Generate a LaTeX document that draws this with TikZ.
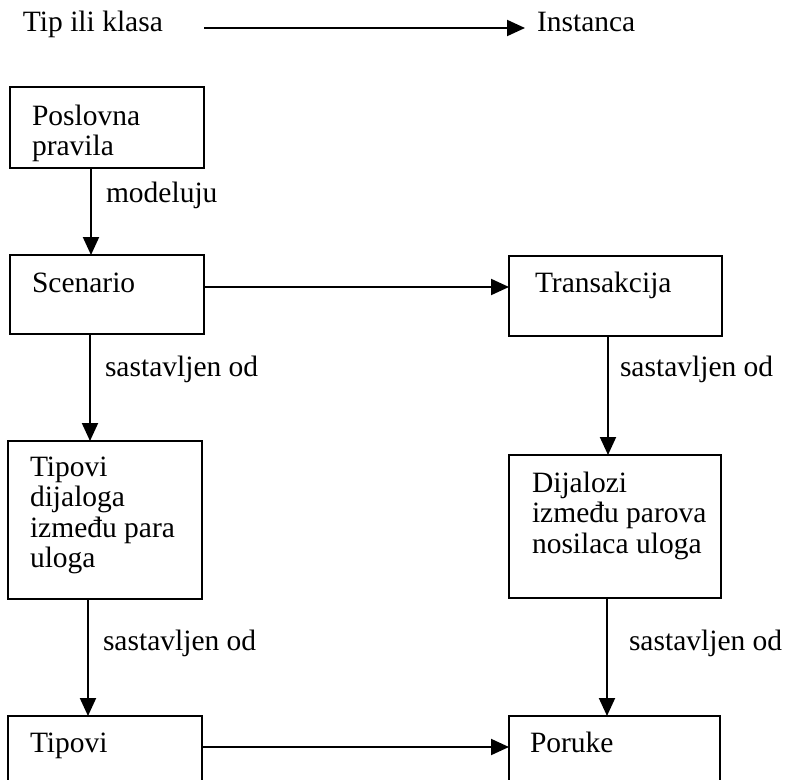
\documentclass[tikz,border=0pt]{standalone}
\usepackage{fontspec}
\setmainfont{Liberation Serif}
\usetikzlibrary{arrows.meta}

\begin{document}
\begin{tikzpicture}[
    x=1pt, y=-1pt,
    every node/.style={inner sep=0pt, outer sep=0pt},
    box/.style={draw, line width=2pt, rectangle},
    txt/.style={anchor=base west, font=\fontsize{29.5}{30.5}\selectfont},
    conn/.style={line width=2pt, -{Triangle[length=18pt,width=16pt]}}
  ]
  % page frame
  \useasboundingbox (0,0) rectangle (787,779);
  \fill[white] (0,0) rectangle (787,779);
  \clip (0,0) rectangle (787,779);

  % legend
  \node[txt] (legtype) at (23,31) {Tip ili klasa};
  \node[txt] (leginst) at (537,31) {Instanca};
  \coordinate (legfrom) at (204,28);
  \coordinate (legto) at (525,28);
  \draw[conn] (legfrom) -- (legto);

  % boxes
  \node[box, minimum width=194pt, minimum height=81pt]  (pr) at (107,127.5) {};
  \node[box, minimum width=194pt, minimum height=79pt]  (sc) at (107,294.5) {};
  \node[box, minimum width=213pt, minimum height=80pt]  (tr) at (615.5,296) {};
  \node[box, minimum width=194pt, minimum height=158pt] (td) at (105,520) {};
  \node[box, minimum width=212pt, minimum height=143pt] (dj) at (615,526.5) {};
  \node[box, minimum width=194pt, minimum height=80pt]  (tp) at (105,756) {};
  \node[box, minimum width=211pt, minimum height=80pt]  (pk) at (614.5,756) {};

  % box texts
  \node[txt] (prT) at (32,125)  {\parbox[t]{170pt}{\raggedright Poslovna\\pravila}};
  \node[txt] (scT) at (32,292)  {Scenario};
  \node[txt] (trT) at (535,292) {Transakcija};
  \node[txt] (tdT) at (30,476)  {\parbox[t]{170pt}{\raggedright Tipovi\\dijaloga\\između para\\uloga}};
  \node[txt] (djT) at (532,492) {\parbox[t]{190pt}{\raggedright Dijalozi\\između parova\\nosilaca uloga}};
  \node[txt] (tpT) at (30,752)  {Tipovi};
  \node[txt] (pkT) at (530,752) {Poruke};

  % connectors
  \draw[conn] ([xshift=-16pt]pr.south) -- ([xshift=-16pt]pr.south |- sc.north);
  \coordinate (scr) at ([yshift=7.5pt]sc.east);
  \draw[conn] (scr) -- (scr -| tr.west);
  \draw[conn] ([xshift=-17pt]sc.south) -- ([xshift=-17pt]sc.south |- td.north);
  \draw[conn] ([xshift=-7.5pt]tr.south) -- ([xshift=-7.5pt]tr.south |- dj.north);
  \draw[conn] ([xshift=-17pt]td.south) -- ([xshift=-17pt]td.south |- tp.north);
  \draw[conn] ([xshift=-8pt]dj.south) -- ([xshift=-8pt]dj.south |- pk.north);
  \coordinate (tpr) at ([yshift=-31pt]tp.north east);
  \draw[conn] (tpr) -- (tpr -| pk.west);

  % connector labels
  \node[txt] (lmod) at (106,202) {modeluju};
  \node[txt] (lsc)  at (105,376) {sastavljen od};
  \node[txt] (ltr)  at (620,376) {sastavljen od};
  \node[txt] (ltd)  at (103,650) {sastavljen od};
  \node[txt] (ldj)  at (629,650) {sastavljen od};
\end{tikzpicture}
\end{document}
